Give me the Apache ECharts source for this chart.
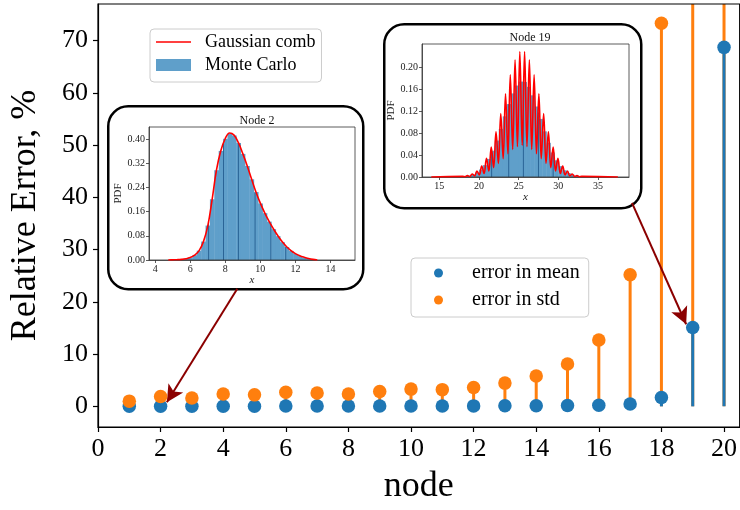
<!DOCTYPE html>
<html>
<head>
<meta charset="utf-8">
<script src="https://cdn.jsdelivr.net/npm/echarts@6/dist/echarts.min.js"></script>
<style>
  html, body { margin: 0; padding: 0; background: #fff; }
  #chart { width: 740px; height: 510px; }
</style>
</head>
<body>
<div id="chart"></div>
<script>
// main stem plot
const nodes = [1, 2, 3, 4, 5, 6, 7, 8, 9, 10, 11, 12, 13, 14, 15, 16, 17, 18, 19, 20];
const errMean = [0.02, 0.03, 0.03, 0.04, 0.04, 0.05, 0.05, 0.06, 0.06, 0.07, 0.08, 0.09, 0.1, 0.12, 0.15, 0.22, 0.45, 1.7, 15.1, 68.7];
const errStd = [1.0, 1.9, 1.6, 2.35, 2.2, 2.7, 2.55, 2.35, 2.85, 3.3, 3.2, 3.6, 4.45, 5.8, 8.1, 12.7, 25.2, 73.3, 110, 150];
const xTicks = [0, 2, 4, 6, 8, 10, 12, 14, 16, 18, 20];
const yTicks = [0, 10, 20, 30, 40, 50, 60, 70];

// arrows: [from, to] in main axis units
const arrowNode2 = [[4.45, 22.5], [2.2, 0.77]];
const arrowNode19 = [[17.06, 38.95], [18.79, 15.71]];

// inset: node 2
const node2X = [4.75, 5.0, 5.25, 5.5, 5.75, 6.0, 6.25, 6.5, 6.75, 7.0, 7.25, 7.5, 7.75, 8.0, 8.25, 8.5, 8.75, 9.0, 9.25, 9.5, 9.75, 10.0, 10.25, 10.5, 10.75, 11.0, 11.25, 11.5, 11.75, 12.0, 12.25, 12.5, 12.75, 13.0, 13.25];
const node2Comb = [0, 0.0005, 0.001, 0.002, 0.004, 0.008, 0.016, 0.030, 0.060, 0.112, 0.200, 0.298, 0.362, 0.402, 0.420, 0.413, 0.388, 0.352, 0.312, 0.268, 0.225, 0.188, 0.156, 0.128, 0.103, 0.080, 0.060, 0.044, 0.031, 0.021, 0.014, 0.009, 0.005, 0.002, 0];
const node2Hist = [0, 0.0005, 0.001, 0.002, 0.004, 0.008, 0.016, 0.031, 0.061, 0.114, 0.201, 0.297, 0.361, 0.401, 0.418, 0.412, 0.387, 0.351, 0.311, 0.267, 0.225, 0.187, 0.155, 0.127, 0.102, 0.079, 0.059, 0.043, 0.030, 0.020, 0.013, 0.008, 0.004, 0.002, 0];
const node2Bin = 0.25;
const node2Edges = [7.05, 7.9, 8.75, 9.7, 10.6, 11.45];
const node2EdgeH = [0.125, 0.388, 0.388, 0.222, 0.118, 0.044];
const inset2XTicks = [4, 6, 8, 10, 12, 14];
const inset2YTicks = [0, 0.08, 0.16, 0.24, 0.32, 0.40];

// inset: node 19
const node19CombX = [14.0, 17.95, 18.25, 18.55, 18.85, 19.15, 19.45, 19.75, 20.05, 20.35, 20.65, 20.95, 21.25, 21.55, 21.85, 22.15, 22.45, 22.75, 23.05, 23.35, 23.65, 23.95, 24.25, 24.55, 24.85, 25.15, 25.45, 25.75, 26.05, 26.35, 26.65, 26.95, 27.25, 27.55, 27.85, 28.15, 28.45, 28.75, 29.05, 29.35, 29.65, 29.95, 30.25, 30.55, 30.85, 31.15, 31.45, 31.75, 32.05, 32.35, 32.65, 32.95, 37.5];
const node19CombY = [0, 0.0011, 0.0004, 0.0026, 0.0009, 0.0054, 0.0019, 0.0107, 0.0037, 0.0198, 0.0065, 0.0340, 0.0109, 0.0549, 0.0170, 0.0826, 0.0247, 0.1160, 0.0335, 0.1522, 0.0425, 0.1867, 0.0504, 0.2140, 0.0558, 0.2290, 0.0578, 0.2290, 0.0558, 0.2140, 0.0504, 0.1867, 0.0425, 0.1522, 0.0335, 0.1160, 0.0247, 0.0826, 0.0170, 0.0549, 0.0109, 0.0340, 0.0065, 0.0198, 0.0037, 0.0107, 0.0019, 0.0054, 0.0009, 0.0026, 0.0004, 0.0011, 0];
const node19HistX = [18.25, 18.75, 19.25, 19.75, 20.25, 20.75, 21.25, 21.75, 22.25, 22.75, 23.25, 23.75, 24.25, 24.75, 25.25, 25.75, 26.25, 26.75, 27.25, 27.75, 28.25, 28.75, 29.25, 29.75, 30.25, 30.75, 31.25, 31.75, 32.25, 32.75];
const node19HistY = [0.0013, 0.0025, 0.0046, 0.0081, 0.0136, 0.0217, 0.0330, 0.0480, 0.0665, 0.0879, 0.1108, 0.1332, 0.1527, 0.1671, 0.1743, 0.1735, 0.1647, 0.1492, 0.1288, 0.1061, 0.0834, 0.0625, 0.0447, 0.0305, 0.0198, 0.0123, 0.0073, 0.0041, 0.0022, 0.0011];
const node19Bin = 0.5;
const node19Edges = [21.6, 23.75, 25.6, 27.5, 29.35];
const node19EdgeH = [0.045, 0.133, 0.174, 0.118, 0.042];
const inset19XTicks = [15, 20, 25, 30, 35];
const inset19YTicks = [0, 0.04, 0.08, 0.12, 0.16, 0.20];

const FONT = 'Liberation Serif';
const BLUE = '#1f77b4';
const ORANGE = '#ff7f0e';
const HIST = '#5f9fca';

const chart = echarts.init(document.getElementById('chart'));

function stemSeries(name, ys, color, z) {
  return {
    name: name, type: 'custom', xAxisIndex: 0, yAxisIndex: 0, z: z, clip: true, silent: true,
    data: nodes.map((n, i) => [n, ys[i]]),
    encode: {x: 0, y: 1},
    renderItem: (params, api) => {
      const p0 = api.coord([api.value(0), 0]);
      const p1 = api.coord([api.value(0), api.value(1)]);
      return {type: 'line', shape: {x1: p0[0], y1: p0[1], x2: p1[0], y2: p1[1]},
        style: {stroke: color, lineWidth: 3}};
    }
  };
}

function histSeries(idx, xs, ys, bin) {
  return {
    name: 'Monte Carlo', type: 'custom', xAxisIndex: idx, yAxisIndex: idx, z: 2, silent: true,
    itemStyle: {color: HIST},
    data: xs.map((x, i) => [x, ys[i]]),
    encode: {x: 0, y: 1},
    renderItem: (params, api) => {
      const a = api.coord([api.value(0) - bin / 2, api.value(1)]);
      const b = api.coord([api.value(0) + bin / 2, 0]);
      return {type: 'rect', shape: {x: a[0], y: a[1], width: b[0] - a[0] + 0.4, height: b[1] - a[1]},
        style: {fill: HIST}};
    }
  };
}

function edgeSeries(idx, xs, hs) {
  return {
    name: 'edges', type: 'custom', xAxisIndex: idx, yAxisIndex: idx, z: 2, silent: true,
    data: xs.map((x, i) => [x, hs[i]]),
    encode: {x: 0, y: 1},
    renderItem: (params, api) => {
      const p0 = api.coord([api.value(0), 0]);
      const p1 = api.coord([api.value(0), api.value(1)]);
      return {type: 'line', shape: {x1: p0[0], y1: p0[1], x2: p1[0], y2: p1[1]},
        style: {stroke: '#2a6496', lineWidth: 1}};
    }
  };
}

function combSeries(idx, xs, ys) {
  return {
    name: 'Gaussian comb', type: 'line', xAxisIndex: idx, yAxisIndex: idx, z: 3,
    data: xs.map((x, i) => [x, ys[i]]),
    smooth: 0.4, symbol: 'none', silent: true,
    lineStyle: {color: '#ff0000', width: 1.6},
    itemStyle: {color: '#ff0000'}
  };
}

function insetX(idx, min, max, ticks, name) {
  return {
    type: 'value', gridIndex: idx, min: min, max: max, z: 3,
    name: name, nameLocation: 'middle', nameGap: 15,
    nameTextStyle: {fontFamily: FONT, fontSize: 11, fontStyle: 'italic', color: '#222'},
    axisLine: {onZero: false, lineStyle: {color: '#333', width: 0.8}},
    axisTick: {length: 3, customValues: ticks, lineStyle: {color: '#333', width: 0.8}},
    axisLabel: {customValues: ticks, margin: 4, fontFamily: FONT, fontSize: 10, color: '#222'},
    splitLine: {show: false}
  };
}

function insetY(idx, min, max, ticks) {
  return {
    type: 'value', gridIndex: idx, min: min, max: max, z: 3,
    name: 'PDF', nameLocation: 'middle', nameGap: 25,
    nameTextStyle: {fontFamily: FONT, fontSize: 11, color: '#222'},
    axisLine: {show: true, onZero: false, lineStyle: {color: '#333', width: 0.8}},
    axisTick: {show: true, length: 3, customValues: ticks, lineStyle: {color: '#333', width: 0.8}},
    axisLabel: {customValues: ticks, margin: 4, fontFamily: FONT, fontSize: 10, color: '#222',
      formatter: v => v.toFixed(2)},
    splitLine: {show: false}
  };
}

const option = {
  animation: false,
  backgroundColor: '#fff',
  textStyle: {fontFamily: FONT},
  graphic: [
    {type: 'rect', left: 107, top: 105, z: 1, shape: {width: 255, height: 183, r: 20},
      style: {fill: '#fff', stroke: '#000', lineWidth: 2.5}},
    {type: 'rect', left: 383, top: 23, z: 1, shape: {width: 257, height: 184, r: 20},
      style: {fill: '#fff', stroke: '#000', lineWidth: 2.5}}
  ],
  title: [
    {text: 'Node 2', left: 252, top: 110, textAlign: 'center', z: 6,
      textStyle: {fontFamily: FONT, fontSize: 12, fontWeight: 'normal', color: '#111'}},
    {text: 'Node 19', left: 525, top: 27, textAlign: 'center', z: 6,
      textStyle: {fontFamily: FONT, fontSize: 12, fontWeight: 'normal', color: '#111'}}
  ],
  legend: [
    {
      orient: 'vertical', left: 411, top: 258, padding: [4, 9, 6, 23],
      itemWidth: 9, itemHeight: 9, itemGap: 5,
      borderColor: '#cccccc', borderWidth: 1, borderRadius: 4, backgroundColor: 'rgba(255,255,255,0.8)',
      formatter: '{p| }{name}',
      textStyle: {fontFamily: FONT, fontSize: 20, lineHeight: 22, color: '#000',
        rich: {p: {width: 24, fontSize: 20, lineHeight: 22}}},
      data: ['error in mean', 'error in std']
    },
    {
      orient: 'vertical', left: 150, top: 29, padding: [3, 6, 7, 6],
      itemWidth: 35, itemHeight: 12, itemGap: 3,
      borderColor: '#cccccc', borderWidth: 1, borderRadius: 4, backgroundColor: 'rgba(255,255,255,0.8)',
      textStyle: {fontFamily: FONT, fontSize: 18, lineHeight: 20, color: '#000', padding: [0, 0, 0, 9]},
      data: [{name: 'Gaussian comb', icon: 'path://M0,0 L35,0 L35,1.6 L0,1.6 Z'}, {name: 'Monte Carlo', icon: 'rect'}]
    }
  ],
  grid: [
    {left: 97, top: 4, right: -1, bottom: 82, show: true, z: 3,
      borderColor: '#000', borderWidth: 1.2, backgroundColor: 'transparent'},
    {left: 149, top: 127, width: 206, height: 133, show: true, z: 3,
      borderColor: '#333', borderWidth: 0.8, backgroundColor: 'transparent'},
    {left: 422, top: 44, width: 207, height: 133, show: true, z: 3,
      borderColor: '#333', borderWidth: 0.8, backgroundColor: 'transparent'}
  ],
  xAxis: [
    {
      type: 'value', gridIndex: 0, min: 0, max: 20.5,
      name: 'node', nameLocation: 'middle', nameGap: 42,
      nameTextStyle: {fontFamily: FONT, fontSize: 36, color: '#000'},
      axisLine: {onZero: false, lineStyle: {color: '#000', width: 1.2}},
      axisTick: {length: 5, customValues: xTicks, lineStyle: {color: '#000', width: 1.2}},
      axisLabel: {customValues: xTicks, margin: 9, fontFamily: FONT, fontSize: 26, color: '#000'},
      splitLine: {show: false}
    },
    insetX(1, 3.65, 15.4, inset2XTicks, 'x'),
    insetX(2, 12.83, 38.9, inset19XTicks, 'x')
  ],
  yAxis: [
    {
      type: 'value', gridIndex: 0, min: -3.95, max: 77,
      name: 'Relative Error, %', nameLocation: 'middle', nameGap: 54,
      nameTextStyle: {fontFamily: FONT, fontSize: 36, color: '#000'},
      axisLine: {show: true, onZero: false, lineStyle: {color: '#000', width: 1.2}},
      axisTick: {show: true, length: 5, customValues: yTicks, lineStyle: {color: '#000', width: 1.2}},
      axisLabel: {customValues: yTicks, margin: 10, fontFamily: FONT, fontSize: 26, color: '#000'},
      splitLine: {show: false}
    },
    insetY(1, 0, 0.44, inset2YTicks),
    insetY(2, 0, 0.243, inset19YTicks)
  ],
  series: [
    stemSeries('std stems', errStd, ORANGE, 2),
    stemSeries('mean stems', errMean, BLUE, 3),
    {
      name: 'error in mean', type: 'scatter', xAxisIndex: 0, yAxisIndex: 0, z: 4,
      data: nodes.map((n, i) => [n, errMean[i]]),
      symbol: 'circle', symbolSize: 13.5, itemStyle: {color: BLUE, opacity: 1},
      markLine: {
        silent: true, symbol: ['none', 'arrow'], symbolSize: [13, 17],
        label: {show: false}, emphasis: {disabled: true},
        lineStyle: {color: '#8b0000', width: 2, type: 'solid'},
        data: [
          [{coord: arrowNode2[0]}, {coord: arrowNode2[1]}],
          [{coord: arrowNode19[0]}, {coord: arrowNode19[1]}]
        ]
      }
    },
    {
      name: 'error in std', type: 'scatter', xAxisIndex: 0, yAxisIndex: 0, z: 5,
      data: nodes.map((n, i) => [n, errStd[i]]),
      symbol: 'circle', symbolSize: 13.5, itemStyle: {color: ORANGE, opacity: 1}
    },
    histSeries(1, node2X, node2Hist, node2Bin),
    edgeSeries(1, node2Edges, node2EdgeH),
    combSeries(1, node2X, node2Comb),
    histSeries(2, node19HistX, node19HistY, node19Bin),
    edgeSeries(2, node19Edges, node19EdgeH),
    combSeries(2, node19CombX, node19CombY)
  ]
};

chart.setOption(option);
</script>
</body>
</html>
